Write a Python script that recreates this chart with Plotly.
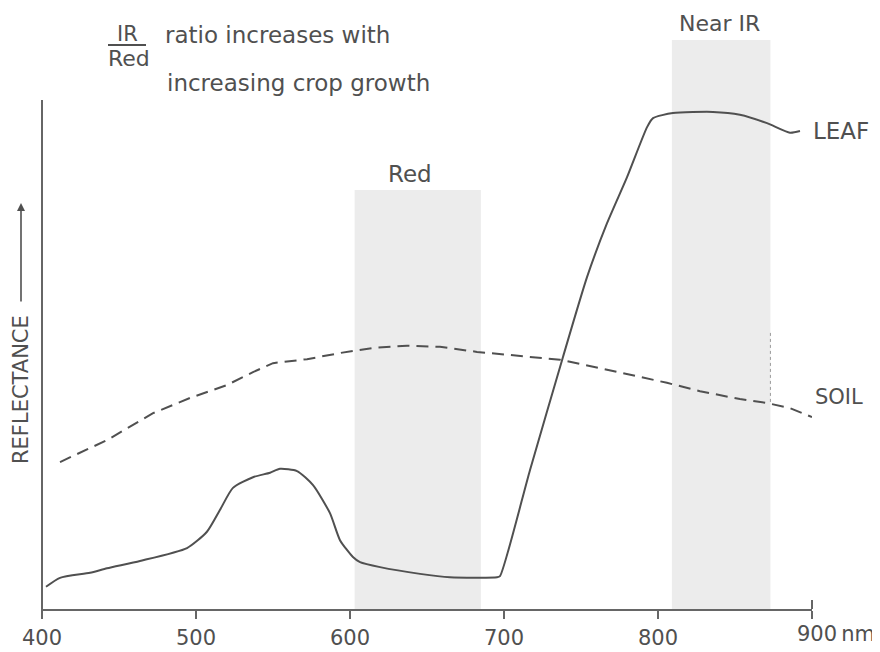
import plotly.graph_objects as go

# ---------------- data ----------------
leaf_nm = [402.6, 411.7, 431.2, 442.2, 463.6, 494.2, 507.1, 515.6, 524.0, 537.0, 548.1, 554.5,
           565.6, 576.0, 587.0, 593.5, 601.9, 606.5, 619.5, 645.5, 664.9, 695.5, 697.4, 716.9,
           738.3, 753.9, 766.9, 779.9, 792.9, 796.8, 809.7, 835.7, 853.2, 870.8, 885.7, 892.2]
leaf_refl = [2.7, 4.3, 5.2, 6.0, 7.3, 9.6, 12.5, 16.4, 20.3, 22.2, 23.0, 23.7,
             23.3, 20.8, 15.8, 11.0, 8.0, 7.1, 6.2, 5.0, 4.4, 4.4, 4.6, 23.5,
             43.6, 57.8, 67.4, 75.6, 84.5, 86.1, 87.0, 87.2, 86.7, 85.2, 83.5, 83.8]

soil_nm = [411.7, 442.2, 472.1, 496.1, 520.1, 537.0, 550.0, 572.1, 593.5, 614.9, 637.0, 658.4,
           682.5, 710.4, 736.4, 762.3, 788.3, 805.8, 827.3, 853.2, 870.8, 885.7, 900.0]
soil_refl = [24.9, 28.8, 33.6, 36.3, 38.6, 40.9, 42.5, 43.2, 44.3, 45.2, 45.6, 45.4,
             44.5, 43.8, 43.1, 41.6, 40.0, 39.0, 37.5, 36.1, 35.4, 34.5, 32.9]

red_band = [603, 685]
red_band_top = 73.3
nir_band = [809, 873]
nir_band_top = 100

y_range = [-1.25, 100]

tick_vals = [400, 500, 600, 700, 800, 900]
tick_text = ["400", "500", "600", "700", "800", ""]

# ---------------- layout helpers ----------------
# the page body has an 8px margin, so the figure is 8px smaller and offset
OFF = 8
PAGE_W, PAGE_H = 880, 652
W, H = PAGE_W - OFF, PAGE_H - OFF
PL, PR, PT, PB = 42, 812, 40, 609          # plot area in page pixels
PW, PH = PR - PL, PB - PT
ink = "#505050"
axis_col = "#666666"
font_main = "DejaVu Sans"


def px(x):
    return (x - PL) / PW


def py(y):
    return (PB - y) / PH


fig = go.Figure()

fig.add_trace(go.Scatter(x=soil_nm, y=soil_refl, mode="lines",
                         line=dict(color=ink, width=2, dash="12px,7px"),
                         hoverinfo="skip", showlegend=False))
fig.add_trace(go.Scatter(x=leaf_nm, y=leaf_refl, mode="lines",
                         line=dict(color=ink, width=2, shape="spline", smoothing=0.6),
                         hoverinfo="skip", showlegend=False))

shapes = [
    dict(type="rect", xref="x", yref="y", x0=red_band[0], x1=red_band[1], y0=y_range[0], y1=red_band_top,
         fillcolor="#ececec", line=dict(width=0), layer="below"),
    dict(type="rect", xref="x", yref="y", x0=nir_band[0], x1=nir_band[1], y0=y_range[0], y1=nir_band_top,
         fillcolor="#ececec", line=dict(width=0), layer="below"),
    # left (reflectance) axis line, slightly overshooting the wavelength axis
    dict(type="line", xref="paper", yref="paper", x0=0, x1=0, y0=py(617), y1=py(100),
         line=dict(color=axis_col, width=2)),
    # fraction bar
    dict(type="line", xref="paper", yref="paper", x0=px(108), x1=px(146), y0=py(45), y1=py(45),
         line=dict(color=ink, width=2)),
    # end tick crossing the axis
    dict(type="line", xref="paper", yref="paper", x0=1, x1=1, y0=0, y1=py(600),
         line=dict(color=axis_col, width=2)),
    # faint scan line at the near-IR band edge
    dict(type="line", xref="x", yref="y", x0=nir_band[1], x1=nir_band[1], y0=35.6, y1=48.4,
         line=dict(color="#9a9a9a", width=1, dash="dot")),
]

ann = []


def text(x, y, s, size=20, xanchor="center", **kw):
    ann.append(dict(x=px(x), y=py(y), xref="paper", yref="paper", text=s, showarrow=False,
                    xanchor=xanchor, yanchor="middle",
                    font=dict(family=font_main, size=size, color=ink), **kw))


text(127, 34, "IR", size=21)
text(129, 59, "Red", size=22)
text(163, 35, "ratio increases with", size=23, xanchor="left")
text(165, 83, "increasing crop growth", size=23, xanchor="left")
text(410, 174, "Red", size=23)
text(719, 24, "Near IR", size=22)
text(811, 131, "LEAF", size=23, xanchor="left")
text(813, 397, "SOIL", size=21, xanchor="left")
text(21, 390, "REFLECTANCE", size=21, textangle=-90)
text(795, 634, "900\u2009nm", size=21, xanchor="left")

# arrow on the reflectance label
ann.append(dict(x=px(21), y=py(203), xref="paper", yref="paper", text="", showarrow=True,
                ax=0, ay=100, arrowhead=2, arrowsize=1, arrowwidth=1.6, arrowcolor=ink))

fig.update_layout(
    width=W, height=H,
    margin=dict(l=PL - OFF, r=W - (PR - OFF), t=PT - OFF, b=H - (PB - OFF), pad=0,
                autoexpand=False),
    paper_bgcolor="white", plot_bgcolor="white",
    shapes=shapes, annotations=ann,
    xaxis=dict(range=[400, 900], showgrid=False, zeroline=False, automargin=False,
               showline=True, linecolor=axis_col, linewidth=2,
               ticks="outside", ticklen=8, tickwidth=2, tickcolor=axis_col,
               tickvals=tick_vals, ticktext=tick_text, ticklabelstandoff=1,
               tickfont=dict(family=font_main, size=21, color=ink)),
    yaxis=dict(range=y_range, visible=False, showgrid=False, zeroline=False, automargin=False),
)

fig.write_html("out.html")
